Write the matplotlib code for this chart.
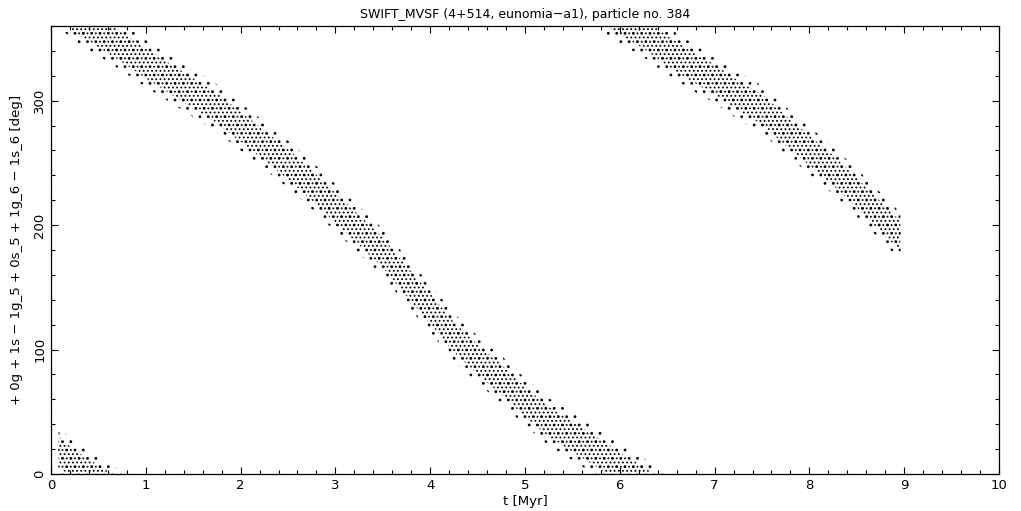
import numpy as np
import matplotlib
matplotlib.use("Agg")
import matplotlib.pyplot as plt
from matplotlib.ticker import MultipleLocator

# --- data (unwrapped resonant angle, deg) ---
t_myr = [0.08, 0.25, 0.5, 0.75, 1.0, 1.25, 1.5, 1.75, 2.0, 2.25, 2.5, 2.75,
         3.0, 3.25, 3.5, 3.75, 4.0, 4.25, 4.5, 4.75, 5.0, 5.25, 5.5, 5.75,
         6.0, 6.25, 6.5, 6.75, 7.0, 7.25, 7.5, 7.75, 8.0, 8.25, 8.5, 8.75, 8.96]
angle_center = [378, 367, 355, 343, 330, 318, 306, 294, 279, 264, 249, 232,
                214, 196, 178, 155, 133, 110, 92, 76, 58, 42, 30, 18,
                5, -6, -20, -32, -43, -56, -67, -84, -100, -116, -134, -153, -169]
spread_core = 12    # half-width of dense part of the band (deg)
spread_outer = 19   # half-width including sparse outliers (deg)

title = "SWIFT_MVSF (4+514, eunomia\u2212a1), particle no. 384"
xlabel = "t [Myr]"
ylabel = "+ 0g + 1s \u2212 1g_5 + 0s_5 + 1g_6 \u2212 1s_6 [deg]"

plt.rcParams['hatch.color'] = 'black'
plt.rcParams['hatch.linewidth'] = 0.8

fig = plt.figure(figsize=(10.21, 5.11), dpi=100)
ax = fig.add_axes([51 / 1021, 37 / 511, 948 / 1021, 448 / 511])

t = np.array(t_myr)
c = np.array(angle_center, dtype=float)
for k in (-1, 0, 1):
    off = 360 * k
    ax.fill_between(t, c - spread_outer + off, c + spread_outer + off,
                    facecolor='none', edgecolor='black', hatch='..', linewidth=0)
    ax.fill_between(t, c - spread_core + off, c + spread_core + off,
                    facecolor='none', edgecolor='black', hatch='....', linewidth=0)

ax.set_xlim(0, 10)
ax.set_ylim(0, 360)
ax.xaxis.set_major_locator(MultipleLocator(1))
ax.xaxis.set_minor_locator(MultipleLocator(0.2))
ax.yaxis.set_major_locator(MultipleLocator(100))
ax.yaxis.set_minor_locator(MultipleLocator(20))
ax.tick_params(which='both', direction='in', top=True, right=True,
               width=0.8, labelsize=9.5, colors='black')
ax.tick_params(which='major', length=4.8)
ax.tick_params(which='minor', length=2.8)
for lab in ax.get_yticklabels():
    lab.set_rotation(90)
    lab.set_va('center')
for s in ax.spines.values():
    s.set_linewidth(0.9)

ax.set_title(title, fontsize=9, pad=6)
ax.set_xlabel(xlabel, fontsize=9.5, labelpad=2)
ax.set_ylabel(ylabel, fontsize=9.5, labelpad=7)

fig.savefig("out.png", dpi=100)
